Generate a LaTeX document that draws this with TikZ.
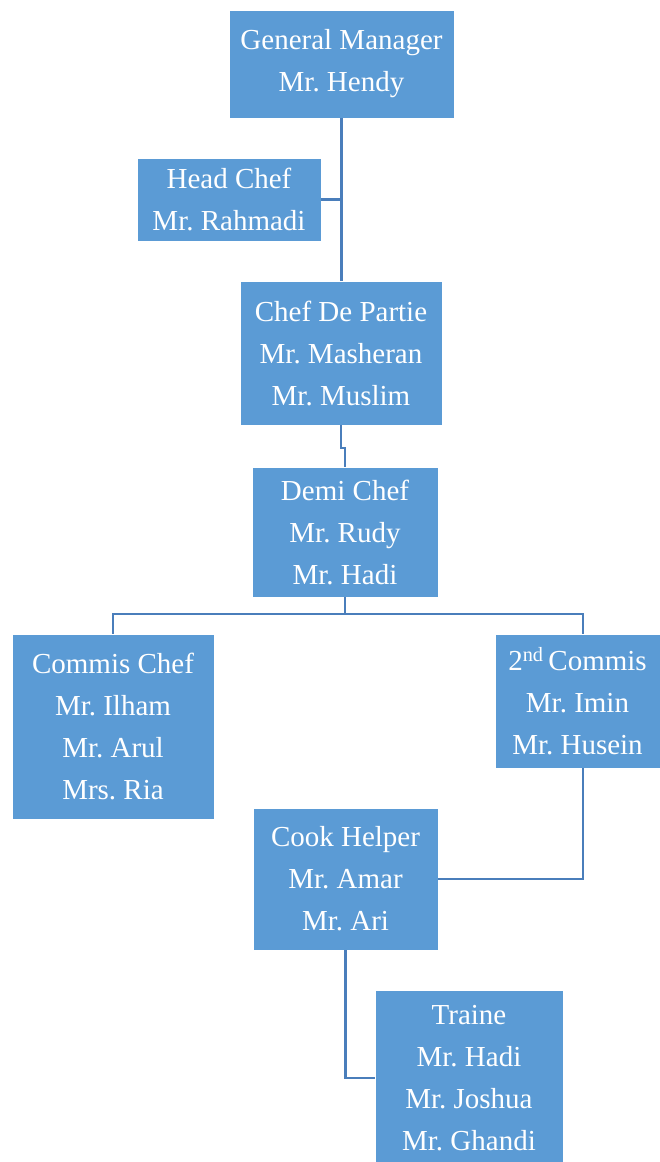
\documentclass[tikz,border=0pt]{standalone}
\usepackage{fontspec}
\setmainfont{Liberation Serif}
\frenchspacing
\definecolor{boxblue}{HTML}{5B9BD5}
\definecolor{lineblue}{HTML}{4A7EBB}
\tikzset{
  orgbox/.style={rectangle, fill=boxblue, draw=white, line width=0.8pt, inner sep=0pt, text=white, align=center,
    font=\fontsize{29}{42}\selectfont\frenchspacing},
  link/.style={draw=lineblue, line width=2.8pt}
}
\begin{document}
\begin{tikzpicture}[x=1pt,y=-1pt]
\useasboundingbox (0,0) rectangle (660,1162);
\node[orgbox, minimum width=225pt, minimum height=108pt] (GM) at (341.5,64) {General Manager\\Mr. Hendy};
\node[orgbox, minimum width=184pt, minimum height=83pt] (HC) at (229,199.5) {Head Chef\\Mr. Rahmadi};
\node[orgbox, minimum width=202pt, minimum height=144pt] (CDP) at (341,353) {Chef De Partie\\Mr. Masheran\\Mr. Muslim};
\node[orgbox, minimum width=186pt, minimum height=130pt] (DC) at (345,532) {Demi Chef\\Mr. Rudy\\Mr. Hadi};
\node[orgbox, minimum width=202pt, minimum height=185pt] (CC) at (113,726.5) {Commis Chef\\Mr. Ilham\\Mr. Arul\\Mrs. Ria};
\node[orgbox, minimum width=165pt, minimum height=134pt] (SC) at (577.5,701) {2\textsuperscript{nd}\,Commis\\Mr. Imin\\Mr. Husein};
\node[orgbox, minimum width=185pt, minimum height=142pt] (CH) at (345.5,879) {Cook Helper\\Mr. Amar\\Mr. Ari};
\node[orgbox, minimum width=188pt, minimum height=176pt] (TR) at (469,1078) {Traine\\Mr. Hadi\\Mr. Joshua\\Mr. Ghandi};
\coordinate (sx) at (583,0);
\coordinate (jog) at (341,448);
\coordinate (bus) at (345,614);
% connectors
\draw[link] (GM.south) -- (GM.south |- CDP.north);
\draw[link] (HC.east) -- (HC.east -| GM.south);
\draw[link] (CDP.south) |- (jog) -| (DC.north);
\draw[link] (DC.south) -- (bus);
\draw[link] (CC.north) |- (bus) -| (SC.north -| sx);
\draw[link] (SC.south -| sx) |- (CH.east);
\draw[link] (CH.south) |- (TR.west);
\end{tikzpicture}
\end{document}
